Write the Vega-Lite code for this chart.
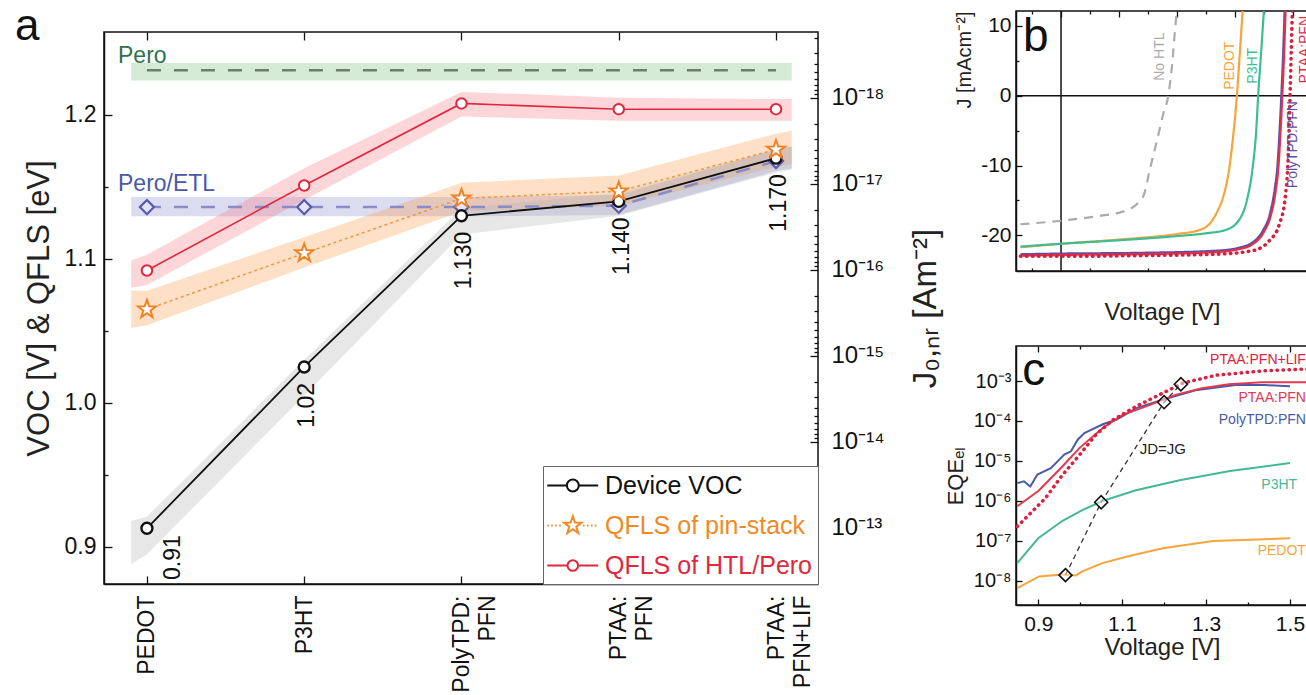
{
"$schema": "https://vega.github.io/schema/vega-lite/v6.json",
"background": "white",
"padding": {"left": 14, "top": 4, "right": 0, "bottom": 0},
"config": {
  "font": "Liberation Sans",
  "view": {"stroke": "#111", "strokeWidth": 1.5},
  "axis": {"grid": false, "domainColor": "#111", "tickColor": "#111", "labelColor": "#222", "titleColor": "#222", "domainWidth": 1.5, "tickWidth": 1.3, "titleFontWeight": "normal", "labelFont": "Liberation Sans", "titleFont": "Liberation Sans", "labelOverlap": false, "labelFlush": false},
  "title": {"fontWeight": "normal"}
},
"datasets": {
  "ptsA": [
    {"series":"Device VOC","idx":0,"v":0.913,"label":"0.91"},
    {"series":"Device VOC","idx":1,"v":1.025,"label":"1.02"},
    {"series":"Device VOC","idx":2,"v":1.130,"label":"1.130"},
    {"series":"Device VOC","idx":3,"v":1.140,"label":"1.140"},
    {"series":"Device VOC","idx":4,"v":1.170,"label":"1.170"},
    {"series":"QFLS of pin-stack","idx":0,"v":1.065},
    {"series":"QFLS of pin-stack","idx":1,"v":1.104},
    {"series":"QFLS of pin-stack","idx":2,"v":1.142},
    {"series":"QFLS of pin-stack","idx":3,"v":1.147},
    {"series":"QFLS of pin-stack","idx":4,"v":1.176},
    {"series":"QFLS of HTL/Pero","idx":0,"v":1.092},
    {"series":"QFLS of HTL/Pero","idx":1,"v":1.151},
    {"series":"QFLS of HTL/Pero","idx":2,"v":1.208},
    {"series":"QFLS of HTL/Pero","idx":3,"v":1.204},
    {"series":"QFLS of HTL/Pero","idx":4,"v":1.204},
    {"series":"Pero/ETL","idx":0,"v":1.136},
    {"series":"Pero/ETL","idx":1,"v":1.136},
    {"series":"Pero/ETL","idx":2,"v":1.136},
    {"series":"Pero/ETL","idx":3,"v":1.137},
    {"series":"Pero/ETL","idx":4,"v":1.168},
    {"series":"Pero","idx":0,"v":1.231},
    {"series":"Pero","idx":4,"v":1.231}
  ],
  "bandsA": [
    {"band":"Pero","idx":-0.1,"lo":1.224,"hi":1.236},
    {"band":"Pero","idx":4.1,"lo":1.224,"hi":1.236},
    {"band":"Pero/ETL","idx":-0.1,"lo":1.1296,"hi":1.1431},
    {"band":"Pero/ETL","idx":0,"lo":1.1296,"hi":1.1431},
    {"band":"Pero/ETL","idx":1,"lo":1.1296,"hi":1.1431},
    {"band":"Pero/ETL","idx":2,"lo":1.1296,"hi":1.1431},
    {"band":"Pero/ETL","idx":3,"lo":1.1306,"hi":1.1444},
    {"band":"Pero/ETL","idx":4,"lo":1.161,"hi":1.176},
    {"band":"Pero/ETL","idx":4.1,"lo":1.163,"hi":1.178},
    {"band":"QFLS of pin-stack","idx":-0.1,"lo":1.052,"hi":1.078},
    {"band":"QFLS of pin-stack","idx":0,"lo":1.054,"hi":1.078},
    {"band":"QFLS of pin-stack","idx":1,"lo":1.094,"hi":1.115},
    {"band":"QFLS of pin-stack","idx":2,"lo":1.133,"hi":1.153},
    {"band":"QFLS of pin-stack","idx":3,"lo":1.137,"hi":1.158},
    {"band":"QFLS of pin-stack","idx":4,"lo":1.164,"hi":1.187},
    {"band":"QFLS of pin-stack","idx":4.1,"lo":1.166,"hi":1.189},
    {"band":"QFLS of HTL/Pero","idx":-0.1,"lo":1.080,"hi":1.099},
    {"band":"QFLS of HTL/Pero","idx":0,"lo":1.082,"hi":1.103},
    {"band":"QFLS of HTL/Pero","idx":1,"lo":1.141,"hi":1.163},
    {"band":"QFLS of HTL/Pero","idx":2,"lo":1.199,"hi":1.216},
    {"band":"QFLS of HTL/Pero","idx":3,"lo":1.196,"hi":1.212},
    {"band":"QFLS of HTL/Pero","idx":4,"lo":1.196,"hi":1.211},
    {"band":"QFLS of HTL/Pero","idx":4.1,"lo":1.196,"hi":1.211},
    {"band":"Device VOC","idx":-0.1,"lo":0.888,"hi":0.918},
    {"band":"Device VOC","idx":0,"lo":0.895,"hi":0.921},
    {"band":"Device VOC","idx":1,"lo":1.005,"hi":1.030},
    {"band":"Device VOC","idx":2,"lo":1.117,"hi":1.135},
    {"band":"Device VOC","idx":3,"lo":1.130,"hi":1.146},
    {"band":"Device VOC","idx":4,"lo":1.160,"hi":1.176},
    {"band":"Device VOC","idx":4.1,"lo":1.162,"hi":1.178}
  ],
  "annA": [
    {"label":"Pero","idx":-0.184,"v":1.2361},
    {"label":"Pero/ETL","idx":-0.184,"v":1.1472}
  ],
  "j0A": [
    {"k":0,"J0":1e-18},
    {"k":4,"J0":1e-13}
  ],
  "jv": [
    {"series":"No HTL","V":-0.21,"J":-18.4},{"series":"No HTL","V":0.0,"J":-17.9},{"series":"No HTL","V":0.2,"J":-17.2},{"series":"No HTL","V":0.32,"J":-16.6},{"series":"No HTL","V":0.40,"J":-15.3},{"series":"No HTL","V":0.43,"J":-14.1},{"series":"No HTL","V":0.46,"J":-10.5},{"series":"No HTL","V":0.50,"J":-6.0},{"series":"No HTL","V":0.53,"J":-2.5},{"series":"No HTL","V":0.555,"J":0.0},{"series":"No HTL","V":0.575,"J":4.5},{"series":"No HTL","V":0.59,"J":9.5},{"series":"No HTL","V":0.60,"J":12.3},
    {"series":"PEDOT","V":-0.21,"J":-21.7},{"series":"PEDOT","V":0.0,"J":-21.2},{"series":"PEDOT","V":0.3,"J":-20.6},{"series":"PEDOT","V":0.6,"J":-19.8},{"series":"PEDOT","V":0.72,"J":-19.2},{"series":"PEDOT","V":0.77,"J":-18.3},{"series":"PEDOT","V":0.81,"J":-16.5},{"series":"PEDOT","V":0.84,"J":-14.4},{"series":"PEDOT","V":0.87,"J":-10.5},{"series":"PEDOT","V":0.89,"J":-6.0},{"series":"PEDOT","V":0.91,"J":0.0},{"series":"PEDOT","V":0.925,"J":6.0},{"series":"PEDOT","V":0.94,"J":12.3},
    {"series":"P3HT","V":-0.21,"J":-21.6},{"series":"P3HT","V":0.0,"J":-21.2},{"series":"P3HT","V":0.3,"J":-20.7},{"series":"P3HT","V":0.6,"J":-20.1},{"series":"P3HT","V":0.75,"J":-19.7},{"series":"P3HT","V":0.855,"J":-19.2},{"series":"P3HT","V":0.93,"J":-17.4},{"series":"P3HT","V":0.965,"J":-14.6},{"series":"P3HT","V":0.993,"J":-10.0},{"series":"P3HT","V":1.01,"J":-5.0},{"series":"P3HT","V":1.02,"J":0.0},{"series":"P3HT","V":1.035,"J":6.0},{"series":"P3HT","V":1.05,"J":12.3},
    {"series":"PolyTPD:PFN","V":-0.21,"J":-22.7},{"series":"PolyTPD:PFN","V":0.0,"J":-22.6},{"series":"PolyTPD:PFN","V":0.4,"J":-22.5},{"series":"PolyTPD:PFN","V":0.8,"J":-22.2},{"series":"PolyTPD:PFN","V":0.93,"J":-21.7},{"series":"PolyTPD:PFN","V":0.98,"J":-21.2},{"series":"PolyTPD:PFN","V":1.045,"J":-19.3},{"series":"PolyTPD:PFN","V":1.08,"J":-17.0},{"series":"PolyTPD:PFN","V":1.105,"J":-13.5},{"series":"PolyTPD:PFN","V":1.12,"J":-10.0},{"series":"PolyTPD:PFN","V":1.13,"J":-5.5},{"series":"PolyTPD:PFN","V":1.14,"J":0.0},{"series":"PolyTPD:PFN","V":1.15,"J":6.5},{"series":"PolyTPD:PFN","V":1.157,"J":12.3},
    {"series":"PTAA:PFN","V":-0.21,"J":-22.9},{"series":"PTAA:PFN","V":0.0,"J":-22.8},{"series":"PTAA:PFN","V":0.4,"J":-22.7},{"series":"PTAA:PFN","V":0.8,"J":-22.4},{"series":"PTAA:PFN","V":0.93,"J":-21.9},{"series":"PTAA:PFN","V":0.99,"J":-21.3},{"series":"PTAA:PFN","V":1.05,"J":-19.5},{"series":"PTAA:PFN","V":1.085,"J":-17.2},{"series":"PTAA:PFN","V":1.11,"J":-13.8},{"series":"PTAA:PFN","V":1.125,"J":-10.2},{"series":"PTAA:PFN","V":1.135,"J":-5.6},{"series":"PTAA:PFN","V":1.145,"J":0.0},{"series":"PTAA:PFN","V":1.155,"J":6.5},{"series":"PTAA:PFN","V":1.162,"J":12.3},
    {"series":"PTAA:PFN+LIF","V":-0.21,"J":-23.0},{"series":"PTAA:PFN+LIF","V":0.0,"J":-23.0},{"series":"PTAA:PFN+LIF","V":0.4,"J":-22.9},{"series":"PTAA:PFN+LIF","V":0.8,"J":-22.7},{"series":"PTAA:PFN+LIF","V":0.99,"J":-22.2},{"series":"PTAA:PFN+LIF","V":1.08,"J":-20.7},{"series":"PTAA:PFN+LIF","V":1.13,"J":-18.4},{"series":"PTAA:PFN+LIF","V":1.16,"J":-14.6},{"series":"PTAA:PFN+LIF","V":1.175,"J":-9.0},{"series":"PTAA:PFN+LIF","V":1.185,"J":0.0},{"series":"PTAA:PFN+LIF","V":1.19,"J":5.0},{"series":"PTAA:PFN+LIF","V":1.197,"J":12.3}
  ],
  "labB": [
    {"series":"No HTL","V":0.512,"J":5.6},
    {"series":"PEDOT","V":0.874,"J":4.3},
    {"series":"P3HT","V":0.993,"J":4.3},
    {"series":"PTAA:PFN","V":1.262,"J":6.6},
    {"series":"PolyTPD:PFN","V":1.2,"J":-7.0}
  ],
  "letterB": [{"letter":"b","V":-0.197,"J":6.4}],
  "eqe": [
    {"series":"PEDOT","V":0.85,"EQE":6.6e-9},{"series":"PEDOT","V":0.902,"EQE":1.3e-8},{"series":"PEDOT","V":0.958,"EQE":1.45e-8},{"series":"PEDOT","V":0.99,"EQE":1.38e-8},{"series":"PEDOT","V":1.005,"EQE":1.74e-8},{"series":"PEDOT","V":1.053,"EQE":2.8e-8},{"series":"PEDOT","V":1.117,"EQE":4.2e-8},{"series":"PEDOT","V":1.197,"EQE":6.6e-8},{"series":"PEDOT","V":1.317,"EQE":1.0e-7},{"series":"PEDOT","V":1.5,"EQE":1.17e-7},
    {"series":"P3HT","V":0.85,"EQE":2.8e-8},{"series":"P3HT","V":0.9,"EQE":1.17e-7},{"series":"P3HT","V":0.958,"EQE":3.2e-7},{"series":"P3HT","V":1.005,"EQE":5.9e-7},{"series":"P3HT","V":1.053,"EQE":1.0e-6},{"series":"P3HT","V":1.133,"EQE":1.86e-6},{"series":"P3HT","V":1.237,"EQE":3.3e-6},{"series":"P3HT","V":1.357,"EQE":5.6e-6},{"series":"P3HT","V":1.5,"EQE":8.9e-6},
    {"series":"PolyTPD:PFN","V":0.85,"EQE":2.8e-6},{"series":"PolyTPD:PFN","V":0.866,"EQE":3.1e-6},{"series":"PolyTPD:PFN","V":0.881,"EQE":2.3e-6},{"series":"PolyTPD:PFN","V":0.898,"EQE":4.6e-6},{"series":"PolyTPD:PFN","V":0.914,"EQE":5.5e-6},{"series":"PolyTPD:PFN","V":0.93,"EQE":6.6e-6},{"series":"PolyTPD:PFN","V":0.946,"EQE":9.8e-6},{"series":"PolyTPD:PFN","V":0.962,"EQE":1.45e-5},{"series":"PolyTPD:PFN","V":0.978,"EQE":1.75e-5},{"series":"PolyTPD:PFN","V":0.994,"EQE":3.4e-5},{"series":"PolyTPD:PFN","V":1.01,"EQE":5.0e-5},{"series":"PolyTPD:PFN","V":1.026,"EQE":6.0e-5},{"series":"PolyTPD:PFN","V":1.054,"EQE":8.3e-5},{"series":"PolyTPD:PFN","V":1.086,"EQE":1.07e-4},{"series":"PolyTPD:PFN","V":1.134,"EQE":2.1e-4},{"series":"PolyTPD:PFN","V":1.2,"EQE":3.5e-4},{"series":"PolyTPD:PFN","V":1.275,"EQE":5.9e-4},{"series":"PolyTPD:PFN","V":1.37,"EQE":7.9e-4},{"series":"PolyTPD:PFN","V":1.44,"EQE":7.9e-4},{"series":"PolyTPD:PFN","V":1.5,"EQE":7.4e-4},
    {"series":"PTAA:PFN","V":0.85,"EQE":7.4e-7},{"series":"PTAA:PFN","V":0.901,"EQE":1.8e-6},{"series":"PTAA:PFN","V":0.958,"EQE":7.4e-6},{"series":"PTAA:PFN","V":0.998,"EQE":2.1e-5},{"series":"PTAA:PFN","V":1.053,"EQE":6.6e-5},{"series":"PTAA:PFN","V":1.1,"EQE":1.4e-4},{"series":"PTAA:PFN","V":1.165,"EQE":2.5e-4},{"series":"PTAA:PFN","V":1.227,"EQE":4.5e-4},{"series":"PTAA:PFN","V":1.29,"EQE":6.6e-4},{"series":"PTAA:PFN","V":1.354,"EQE":8.3e-4},{"series":"PTAA:PFN","V":1.433,"EQE":9.3e-4},{"series":"PTAA:PFN","V":1.547,"EQE":9.3e-4},
    {"series":"PTAA:PFN+LIF","V":0.85,"EQE":2.3e-7},{"series":"PTAA:PFN+LIF","V":0.917,"EQE":1.17e-6},{"series":"PTAA:PFN+LIF","V":0.958,"EQE":4.5e-6},{"series":"PTAA:PFN+LIF","V":0.998,"EQE":1.4e-5},{"series":"PTAA:PFN+LIF","V":1.037,"EQE":4.5e-5},{"series":"PTAA:PFN+LIF","V":1.077,"EQE":1.05e-4},{"series":"PTAA:PFN+LIF","V":1.133,"EQE":2.3e-4},{"series":"PTAA:PFN+LIF","V":1.197,"EQE":5.0e-4},{"series":"PTAA:PFN+LIF","V":1.245,"EQE":8.9e-4},{"series":"PTAA:PFN+LIF","V":1.325,"EQE":1.4e-3},{"series":"PTAA:PFN+LIF","V":1.437,"EQE":1.8e-3},{"series":"PTAA:PFN+LIF","V":1.547,"EQE":2.0e-3}
  ],
  "jdjg": [
    {"V":0.965,"EQE":1.4e-8},
    {"V":1.05,"EQE":9.3e-7},
    {"V":1.2,"EQE":2.95e-4},
    {"V":1.24,"EQE":8.3e-4}
  ],
  "labC": [
    {"series":"PTAA:PFN+LIF","V":1.538,"EQE":3.35e-3},
    {"series":"PTAA:PFN","V":1.538,"EQE":3.76e-4},
    {"series":"PolyTPD:PFN","V":1.538,"EQE":1.06e-4},
    {"series":"P3HT","V":1.517,"EQE":2.5e-6},
    {"series":"PEDOT","V":1.538,"EQE":5.6e-8}
  ],
  "noteC": [{"text":"JD=JG","V":1.142,"EQE":1.5e-5}],
  "letterC": [{"letter":"c","V":0.862,"EQE":7.9e-4}]
},
"hconcat": [
  {
    "vconcat": [
      {
        "width": 714,
        "height": 1,
        "data": {"values": [{}]},
        "mark": {"type": "point", "opacity": 0},
        "view": {"stroke": null}
      },
      {
        "width": 714,
        "height": 552,
        "title": {"text": "a", "anchor": "start", "frame": "bounds", "fontSize": 44, "offset": -23, "dx": -8, "color": "#111"},
        "layer": [
          {
            "layer": [
              {
                "data": {"name": "bandsA"},
                "mark": {"type": "area", "fillOpacity": 0.3},
                "encoding": {
                  "x": {"field": "idx", "type": "quantitative", "scale": {"domain": [-0.273, 4.267], "nice": false, "zero": false},
                        "axis": {"values": [0,1,2,3,4], "labelExpr": "[['PEDOT'],['P3HT'],['PolyTPD:','PFN'],['PTAA:','PFN'],['PTAA:','PFN+LIF']][datum.value]", "labelAngle": 270, "labelFontSize": 23, "labelLineHeight": 26, "tickSize": -8, "labelPadding": 19, "title": null, "labelColor": "#111"}},
                  "y": {"field": "lo", "type": "quantitative", "scale": {"domain": [0.8743, 1.2576], "nice": false, "zero": false},
                        "axis": {"values": [0.9,0.95,1.0,1.05,1.1,1.15,1.2], "labelExpr": "abs(datum.value*10 - round(datum.value*10)) < 0.01 ? format(datum.value, '.1f') : ''", "tickSize": {"condition": {"test": "abs(datum.value*10 - round(datum.value*10)) < 0.01", "value": -8}, "value": -4}, "labelPadding": 16, "labelFontSize": 23, "labelColor": "#111", "title": "VOC [V] & QFLS [eV]", "titleFontSize": 31, "titlePadding": 9}},
                  "y2": {"field": "hi"},
                  "fill": {"field": "band", "type": "nominal", "scale": {"domain": ["Pero","Pero/ETL","QFLS of pin-stack","QFLS of HTL/Pero","Device VOC"], "range": ["#73bc73","#8a8acd","#f8983e","#f57680","#b0b0b0"]}, "legend": null}
                }
              },
              {
                "data": {"name": "ptsA"},
                "transform": [{"filter": "datum.series === 'Pero'"}],
                "mark": {"type": "line", "color": "#6f7d6f", "strokeWidth": 2.5, "strokeDash": [14, 13]},
                "encoding": {"x": {"field": "idx", "type": "quantitative"}, "y": {"field": "v", "type": "quantitative"}}
              },
              {
                "data": {"name": "ptsA"},
                "transform": [{"filter": "datum.series === 'Pero/ETL'"}],
                "mark": {"type": "line", "color": "#8a8ac8", "strokeWidth": 2.5, "strokeDash": [14, 13]},
                "encoding": {"x": {"field": "idx", "type": "quantitative"}, "y": {"field": "v", "type": "quantitative"}}
              },
              {
                "data": {"name": "ptsA"},
                "transform": [{"filter": "datum.series === 'Pero/ETL'"}],
                "mark": {"type": "point", "shape": "diamond", "size": 200, "filled": true, "fill": "#e4e4f6", "fillOpacity": 1, "stroke": "#5a5aaa", "strokeWidth": 2.2},
                "encoding": {"x": {"field": "idx", "type": "quantitative"}, "y": {"field": "v", "type": "quantitative"}}
              },
              {
                "data": {"name": "ptsA"},
                "transform": [{"filter": "datum.series === 'QFLS of pin-stack'"}],
                "mark": {"type": "line", "color": "#ee9a4c", "strokeWidth": 1.6, "strokeDash": [3, 3]},
                "encoding": {"x": {"field": "idx", "type": "quantitative"}, "y": {"field": "v", "type": "quantitative"}}
              },
              {
                "data": {"name": "ptsA"},
                "transform": [{"filter": "datum.series === 'Device VOC'"}],
                "mark": {"type": "line", "strokeWidth": 1.8},
                "encoding": {
                  "x": {"field": "idx", "type": "quantitative"},
                  "y": {"field": "v", "type": "quantitative"},
                  "color": {"field": "series", "type": "nominal",
                    "scale": {"domain": ["Device VOC","QFLS of pin-stack","QFLS of HTL/Pero"], "range": ["#111111","#f08a24","#e0283c"]},
                    "legend": {
                      "title": null, "orient": "bottom-right", "offset": 0,
                      "strokeColor": "#666", "fillColor": "white", "padding": 5,
                      "labelFontSize": 25, "labelFont": "Liberation Sans", "labelOffset": 28, "labelLimit": 400,
                      "symbolSize": 700, "symbolStrokeWidth": 2, "rowPadding": 12,
                      "encode": {
                        "symbols": {"update": {
                          "shape": {"signal": "datum.value === 'QFLS of pin-stack' ? 'M-1.15,0L-1.03,0M-0.85,0L-0.73,0M-0.55,0L-0.43,0M-0.25,0L-0.13,0M1.55,0L1.67,0M1.85,0L1.97,0M2.15,0L2.27,0M2.45,0L2.57,0M0.78,-0.7L0.945,-0.227L1.446,-0.216L1.046,0.087L1.192,0.566L0.78,0.28L0.368,0.566L0.514,0.087L0.114,-0.216L0.615,-0.227Z' : datum.value === 'Device VOC' ? 'M-1.15,0L0.33,0M1.23,0L2.7,0M1.23,0A0.45,0.45,0,1,1,0.33,0A0.45,0.45,0,1,1,1.23,0Z' : 'M-1.15,0L0.38,0M1.18,0L2.7,0M1.18,0A0.4,0.4,0,1,1,0.38,0A0.4,0.4,0,1,1,1.18,0Z'"},
                          "fill": {"value": "white"},
                          "strokeWidth": {"value": 2},
                          "opacity": {"value": 1}
                        }},
                        "labels": {"update": {
                          "fill": {"signal": "datum.value === 'Device VOC' ? '#111111' : datum.value === 'QFLS of pin-stack' ? '#f08a24' : '#e0283c'"}
                        }}
                      }
                    }
                  }
                }
              },
              {
                "data": {"name": "ptsA"},
                "transform": [{"filter": "datum.series === 'Device VOC'"}],
                "mark": {"type": "point", "shape": "circle", "size": 120, "filled": true, "fill": "white", "stroke": "#111", "strokeWidth": 2.4, "fillOpacity": 1},
                "encoding": {"x": {"field": "idx", "type": "quantitative"}, "y": {"field": "v", "type": "quantitative"}}
              },
              {
                "data": {"name": "ptsA"},
                "transform": [{"filter": "datum.series === 'QFLS of pin-stack'"}],
                "mark": {"type": "point", "shape": "M0,-1L0.235,-0.324L0.951,-0.309L0.38,0.124L0.588,0.809L0,0.4L-0.588,0.809L-0.38,0.124L-0.951,-0.309L-0.235,-0.324Z", "size": 360, "filled": true, "fill": "white", "fillOpacity": 1, "stroke": "#f08224", "strokeWidth": 2},
                "encoding": {"x": {"field": "idx", "type": "quantitative"}, "y": {"field": "v", "type": "quantitative"}}
              },
              {
                "data": {"name": "ptsA"},
                "transform": [{"filter": "datum.series === 'QFLS of HTL/Pero'"}],
                "mark": {"type": "line", "color": "#e0283c", "strokeWidth": 1.6},
                "encoding": {"x": {"field": "idx", "type": "quantitative"}, "y": {"field": "v", "type": "quantitative"}}
              },
              {
                "data": {"name": "ptsA"},
                "transform": [{"filter": "datum.series === 'QFLS of HTL/Pero'"}],
                "mark": {"type": "point", "shape": "circle", "size": 110, "filled": true, "fill": "white", "fillOpacity": 1, "stroke": "#e0283c", "strokeWidth": 2},
                "encoding": {"x": {"field": "idx", "type": "quantitative"}, "y": {"field": "v", "type": "quantitative"}}
              },
              {
                "data": {"name": "ptsA"},
                "transform": [{"filter": "datum.series === 'Device VOC' && datum.idx > 0"}],
                "mark": {"type": "text", "angle": 270, "align": "right", "baseline": "middle", "dx": -16, "dy": 3, "fontSize": 23, "color": "#111"},
                "encoding": {"x": {"field": "idx", "type": "quantitative"}, "y": {"field": "v", "type": "quantitative"}, "text": {"field": "label"}}
              },
              {
                "data": {"name": "ptsA"},
                "transform": [{"filter": "datum.series === 'Device VOC' && datum.idx === 0"}],
                "mark": {"type": "text", "angle": 270, "align": "right", "baseline": "middle", "dx": -7, "dy": 26, "fontSize": 23, "color": "#111"},
                "encoding": {"x": {"field": "idx", "type": "quantitative"}, "y": {"field": "v", "type": "quantitative"}, "text": {"field": "label"}}
              },
              {
                "data": {"name": "annA"},
                "transform": [{"filter": "datum.label === 'Pero'"}],
                "mark": {"type": "text", "align": "left", "baseline": "alphabetic", "fontSize": 23, "color": "#2f7150"},
                "encoding": {"x": {"field": "idx", "type": "quantitative"}, "y": {"field": "v", "type": "quantitative"}, "text": {"field": "label"}}
              },
              {
                "data": {"name": "annA"},
                "transform": [{"filter": "datum.label === 'Pero/ETL'"}],
                "mark": {"type": "text", "align": "left", "baseline": "alphabetic", "fontSize": 23, "color": "#4a58a8"},
                "encoding": {"x": {"field": "idx", "type": "quantitative"}, "y": {"field": "v", "type": "quantitative"}, "text": {"field": "label"}}
              }
            ]
          },
          {
            "data": {"name": "j0A"},
            "mark": {"type": "point", "opacity": 0},
            "encoding": {
              "x": {"field": "k", "type": "quantitative", "scale": {"domain": [-0.273, 4.267], "nice": false, "zero": false},
                    "axis": {"orient": "top", "values": [0,1,2,3,4], "labels": false, "tickSize": -8, "domain": false, "title": null}},
              "y": {"field": "J0", "type": "quantitative", "scale": {"type": "log", "domain": [1.71e-19, 4.48e-13], "reverse": true, "nice": false},
                    "axis": {"orient": "right", "domain": false,
                      "values": [2e-19,3e-19,4e-19,5e-19,6e-19,7e-19,8e-19,9e-19,1e-18,2e-18,3e-18,4e-18,5e-18,6e-18,7e-18,8e-18,9e-18,1e-17,2e-17,3e-17,4e-17,5e-17,6e-17,7e-17,8e-17,9e-17,1e-16,2e-16,3e-16,4e-16,5e-16,6e-16,7e-16,8e-16,9e-16,1e-15,2e-15,3e-15,4e-15,5e-15,6e-15,7e-15,8e-15,9e-15,1e-14,2e-14,3e-14,4e-14,5e-14,6e-14,7e-14,8e-14,9e-14,1e-13,2e-13,3e-13,4e-13],
                      "labelExpr": "abs(log(datum.value)/LN10 - round(log(datum.value)/LN10)) < 0.001 ? ['10⁻¹³','10⁻¹⁴','10⁻¹⁵','10⁻¹⁶','10⁻¹⁷','10⁻¹⁸'][-13 - round(log(datum.value)/LN10)] : ''",
                      "tickSize": {"condition": {"test": "abs(log(datum.value)/LN10 - round(log(datum.value)/LN10)) < 0.001", "value": -8}, "value": -4},
                      "labelPadding": 21, "labelFontSize": 24, "labelColor": "#111",
                      "title": "J₀,ₙᵣ [Am⁻²]", "titleAngle": 270, "titleFontSize": 33, "titlePadding": 58}}
            }
          }
        ],
        "resolve": {"scale": {"x": "independent", "y": "independent"}}
      }
    ],
    "spacing": 20,
    "bounds": "flush",
    "resolve": {"scale": {"color": "independent", "fill": "independent"}, "legend": {"color": "independent", "fill": "independent"}}
  },
  {
    "vconcat": [
      {
        "width": 292,
        "height": 260,
        "layer": [
          {
            "layer": [
              {
                "data": {"values": [{}]},
                "mark": {"type": "rule", "color": "#111", "strokeWidth": 1.5},
                "encoding": {"x": {"datum": 0, "type": "quantitative"}}
              },
              {
                "data": {"values": [{}]},
                "mark": {"type": "rule", "color": "#111", "strokeWidth": 1.5},
                "encoding": {"y": {"datum": 0, "type": "quantitative"}}
              },
              {
                "data": {"name": "jv"},
                "transform": [{"filter": "datum.series !== 'PTAA:PFN+LIF'"}],
                "mark": {"type": "line", "interpolate": "monotone", "clip": true, "strokeWidth": 2.2},
                "encoding": {
                  "x": {"field": "V", "type": "quantitative", "scale": {"domain": [-0.233, 1.278], "nice": false, "zero": false},
                        "axis": {"values": [-0.15,0,0.15,0.3,0.45,0.6,0.75,0.9,1.05,1.2], "labelExpr": "abs(datum.value/0.3 - round(datum.value/0.3)) < 0.01 ? format(datum.value, '.1f') : ''", "tickSize": {"condition": {"test": "abs(datum.value/0.3 - round(datum.value/0.3)) < 0.01", "value": -6}, "value": -3}, "labelPadding": 14, "labelFontSize": 21, "labelColor": "#111", "title": "Voltage [V]", "titleFontSize": 24, "titlePadding": -3}},
                  "y": {"field": "J", "type": "quantitative", "scale": {"domain": [-25.1, 12.14], "nice": false, "zero": false},
                        "axis": {"values": [-20,-15,-10,-5,0,5,10], "labelExpr": "datum.value % 10 === 0 ? '' + datum.value : ''", "tickSize": {"condition": {"test": "datum.value % 10 === 0", "value": -6}, "value": -3}, "labelPadding": 11, "labelFontSize": 21, "labelColor": "#111", "title": "J [mAcm⁻²]", "titleFontSize": 20, "titleAnchor": "end", "titlePadding": 6}},
                  "color": {"field": "series", "type": "nominal", "scale": {"domain": ["No HTL","PEDOT","P3HT","PolyTPD:PFN","PTAA:PFN"], "range": ["#ababab","#f5a53c","#3dbd94","#5a4fa5","#e0304c"]}, "legend": null},
                  "strokeDash": {"field": "series", "type": "nominal", "scale": {"domain": ["No HTL","PEDOT","P3HT","PolyTPD:PFN","PTAA:PFN"], "range": [[9,7],[1,0],[1,0],[1,0],[1,0]]}, "legend": null}
                }
              },
              {
                "data": {"name": "jv"},
                "transform": [{"filter": "datum.series === 'PTAA:PFN+LIF'"}],
                "mark": {"type": "line", "interpolate": "monotone", "clip": true, "strokeWidth": 3.5, "strokeDash": [0.5, 5.5], "strokeCap": "round", "color": "#d81e3c"},
                "encoding": {"x": {"field": "V", "type": "quantitative"}, "y": {"field": "J", "type": "quantitative"}}
              },
              {
                "data": {"name": "labB"},
                "mark": {"type": "text", "angle": 270, "align": "center", "baseline": "middle", "fontSize": 14, "clip": true},
                "encoding": {"x": {"field": "V", "type": "quantitative"}, "y": {"field": "J", "type": "quantitative"}, "text": {"field": "series"}, "color": {"field": "series", "type": "nominal", "legend": null}}
              },
              {
                "data": {"name": "letterB"},
                "mark": {"type": "text", "align": "left", "baseline": "alphabetic", "fontSize": 46, "color": "#111"},
                "encoding": {"x": {"field": "V", "type": "quantitative"}, "y": {"field": "J", "type": "quantitative"}, "text": {"field": "letter"}}
              }
            ]
          },
          {
            "data": {"values": [{"t": 0}]},
            "mark": {"type": "point", "opacity": 0},
            "encoding": {
              "x": {"field": "t", "type": "quantitative", "scale": {"domain": [-0.233, 1.278], "nice": false, "zero": false},
                    "axis": {"orient": "top", "values": [-0.15,0,0.15,0.3,0.45,0.6,0.75,0.9,1.05,1.2], "labels": false, "domain": false, "title": null, "tickSize": {"condition": {"test": "abs(datum.value/0.3 - round(datum.value/0.3)) < 0.01", "value": -6}, "value": -3}}}
            }
          }
        ],
        "resolve": {"scale": {"x": "independent"}}
      },
      {
        "width": 292,
        "height": 259,
        "layer": [
          {
            "layer": [
              {
                "data": {"name": "eqe"},
                "transform": [{"filter": "datum.series !== 'PTAA:PFN+LIF'"}],
                "mark": {"type": "line", "clip": true, "strokeWidth": 2},
                "encoding": {
                  "x": {"field": "V", "type": "quantitative", "scale": {"domain": [0.847, 1.543], "nice": false, "zero": false},
                        "axis": {"values": [0.9,1.0,1.1,1.2,1.3,1.4,1.5], "labelExpr": "abs((datum.value-0.9)/0.2 - round((datum.value-0.9)/0.2)) < 0.01 ? format(datum.value, '.1f') : ''", "tickSize": {"condition": {"test": "abs((datum.value-0.9)/0.2 - round((datum.value-0.9)/0.2)) < 0.01", "value": -6}, "value": -3}, "labelPadding": 14, "labelFontSize": 21, "labelColor": "#111", "title": "Voltage [V]", "titleFontSize": 24, "titlePadding": -2}},
                  "y": {"field": "EQE", "type": "quantitative", "scale": {"type": "log", "domain": [2.51e-9, 7.5e-3], "nice": false},
                        "axis": {"values": [1e-8,1e-7,1e-6,1e-5,1e-4,1e-3], "labelExpr": "['10⁻³','10⁻⁴','10⁻⁵','10⁻⁶','10⁻⁷','10⁻⁸'][-3 - round(log(datum.value)/LN10)]", "tickSize": -6, "labelPadding": 11, "labelFontSize": 20, "labelColor": "#111", "title": "EQEₑₗ", "titleFontSize": 22, "titlePadding": 6}},
                  "color": {"field": "series", "type": "nominal", "scale": {"domain": ["PEDOT","P3HT","PolyTPD:PFN","PTAA:PFN","PTAA:PFN+LIF"], "range": ["#f5a53c","#45b896","#4a5aa8","#e23a50","#dd2040"]}, "legend": null}
                }
              },
              {
                "data": {"name": "eqe"},
                "transform": [{"filter": "datum.series === 'PTAA:PFN+LIF'"}],
                "mark": {"type": "line", "clip": true, "strokeWidth": 3.5, "strokeDash": [0.5, 5.5], "strokeCap": "round", "color": "#dd2040"},
                "encoding": {"x": {"field": "V", "type": "quantitative"}, "y": {"field": "EQE", "type": "quantitative"}}
              },
              {
                "data": {"name": "jdjg"},
                "mark": {"type": "line", "color": "#333", "strokeWidth": 1.3, "strokeDash": [5, 4]},
                "encoding": {"x": {"field": "V", "type": "quantitative"}, "y": {"field": "EQE", "type": "quantitative"}}
              },
              {
                "data": {"name": "jdjg"},
                "mark": {"type": "point", "shape": "diamond", "size": 170, "filled": true, "fill": "white", "fillOpacity": 0.5, "stroke": "#111", "strokeWidth": 1.6},
                "encoding": {"x": {"field": "V", "type": "quantitative"}, "y": {"field": "EQE", "type": "quantitative"}}
              },
              {
                "data": {"name": "labC"},
                "mark": {"type": "text", "align": "right", "baseline": "middle", "fontSize": 14, "clip": true},
                "encoding": {"x": {"field": "V", "type": "quantitative"}, "y": {"field": "EQE", "type": "quantitative"}, "text": {"field": "series"}, "color": {"field": "series", "type": "nominal", "legend": null}}
              },
              {
                "data": {"name": "noteC"},
                "mark": {"type": "text", "align": "left", "baseline": "alphabetic", "fontSize": 15, "color": "#222"},
                "encoding": {"x": {"field": "V", "type": "quantitative"}, "y": {"field": "EQE", "type": "quantitative"}, "text": {"field": "text"}}
              },
              {
                "data": {"name": "letterC"},
                "mark": {"type": "text", "align": "left", "baseline": "alphabetic", "fontSize": 46, "color": "#111"},
                "encoding": {"x": {"field": "V", "type": "quantitative"}, "y": {"field": "EQE", "type": "quantitative"}, "text": {"field": "letter"}}
              }
            ]
          },
          {
            "data": {"values": [{"t": 1.0}]},
            "mark": {"type": "point", "opacity": 0},
            "encoding": {
              "x": {"field": "t", "type": "quantitative", "scale": {"domain": [0.847, 1.543], "nice": false, "zero": false},
                    "axis": {"orient": "top", "values": [0.9,1.0,1.1,1.2,1.3,1.4,1.5], "labels": false, "domain": false, "title": null, "tickSize": {"condition": {"test": "abs((datum.value-0.9)/0.2 - round((datum.value-0.9)/0.2)) < 0.01", "value": -6}, "value": -3}}}
            }
          }
        ],
        "resolve": {"scale": {"x": "independent"}}
      }
    ],
    "spacing": 75,
    "bounds": "flush",
    "resolve": {"scale": {"color": "independent", "strokeDash": "independent"}}
  }
],
"spacing": 912,
"bounds": "flush",
"resolve": {"scale": {"color": "independent", "fill": "independent", "strokeDash": "independent"}}
}
